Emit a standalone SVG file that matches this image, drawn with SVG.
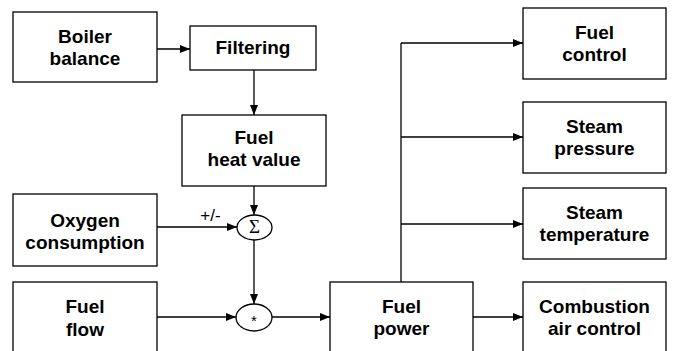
<svg xmlns="http://www.w3.org/2000/svg" width="675" height="351" viewBox="0 0 675 351">
<defs>
<style>
.box{fill:#fff;stroke:#000;stroke-width:1.3}
.t{font-family:"Liberation Sans",Arial,sans-serif;font-weight:bold;font-size:19px;text-anchor:middle;fill:#000}
.c line{stroke:#000;stroke-width:1.3;fill:none}
</style>
<marker id="ah" viewBox="0 0 10 8" refX="10" refY="4" markerWidth="10" markerHeight="8" markerUnits="userSpaceOnUse" orient="auto">
<path d="M0,0 L10,4 L0,8 z" fill="#000"/>
</marker>
</defs>
<rect width="675" height="351" fill="#fff"/>
<g class="c">
<line x1="157" y1="49" x2="190" y2="49" marker-end="url(#ah)"/>
<line x1="254" y1="70" x2="254" y2="115" marker-end="url(#ah)"/>
<line x1="254" y1="186" x2="254" y2="215" marker-end="url(#ah)"/>
<line x1="157" y1="227" x2="237" y2="227" marker-end="url(#ah)"/>
<line x1="254" y1="240" x2="254" y2="304" marker-end="url(#ah)"/>
<line x1="157" y1="317" x2="236" y2="317" marker-end="url(#ah)"/>
<line x1="272" y1="317" x2="330" y2="317" marker-end="url(#ah)"/>
<line x1="473" y1="317" x2="523" y2="317" marker-end="url(#ah)"/>
<line x1="401" y1="282" x2="401" y2="43"/>
<line x1="401" y1="43" x2="523" y2="43" marker-end="url(#ah)"/>
<line x1="401" y1="137" x2="523" y2="137" marker-end="url(#ah)"/>
<line x1="401" y1="224" x2="523" y2="224" marker-end="url(#ah)"/>
</g>
<text x="210.5" y="221" font-family="Liberation Sans,Arial,sans-serif" font-size="17" text-anchor="middle">+/-</text>
<g id="boiler"><rect class="box" x="13" y="12" width="144" height="70"/><text class="t" x="85" y="43">Boiler</text><text class="t" x="85" y="65">balance</text></g>
<g id="filtering"><rect class="box" x="190" y="26" width="126" height="44"/><text class="t" x="253" y="54">Filtering</text></g>
<g id="heat"><rect class="box" x="182" y="115" width="144" height="71"/><text class="t" x="254" y="144">Fuel</text><text class="t" x="254" y="166">heat value</text></g>
<g id="oxygen"><rect class="box" x="13" y="194" width="144" height="72"/><text class="t" x="85" y="227">Oxygen</text><text class="t" x="85" y="249">consumption</text></g>
<g id="sum"><ellipse class="box" cx="254.5" cy="227.5" rx="17.5" ry="12.5"/><text x="254.5" y="233" font-family="Liberation Serif,serif" font-size="19" text-anchor="middle">Σ</text></g>
<g id="mul"><ellipse class="box" cx="254" cy="317.5" rx="18" ry="13.5"/><text x="254" y="326" font-family="Liberation Sans,sans-serif" font-size="15" text-anchor="middle">*</text></g>
<g id="fuelflow"><rect class="box" x="13" y="282" width="144" height="72"/><text class="t" x="85" y="313">Fuel</text><text class="t" x="85" y="336">flow</text></g>
<g id="fuelpower"><rect class="box" x="330" y="282" width="143" height="72"/><text class="t" x="401.5" y="313">Fuel</text><text class="t" x="401.5" y="335">power</text></g>
<g id="fuelcontrol"><rect class="box" x="523" y="8" width="143" height="71"/><text class="t" x="594.5" y="39">Fuel</text><text class="t" x="594.5" y="61">control</text></g>
<g id="pressure"><rect class="box" x="523" y="102" width="143" height="71"/><text class="t" x="594.5" y="133">Steam</text><text class="t" x="594.5" y="155">pressure</text></g>
<g id="temperature"><rect class="box" x="523" y="188" width="143" height="71"/><text class="t" x="594.5" y="219">Steam</text><text class="t" x="594.5" y="241">temperature</text></g>
<g id="combustion"><rect class="box" x="523" y="282" width="143" height="72"/><text class="t" x="594.5" y="313">Combustion</text><text class="t" x="594.5" y="335">air control</text></g>
</svg>
